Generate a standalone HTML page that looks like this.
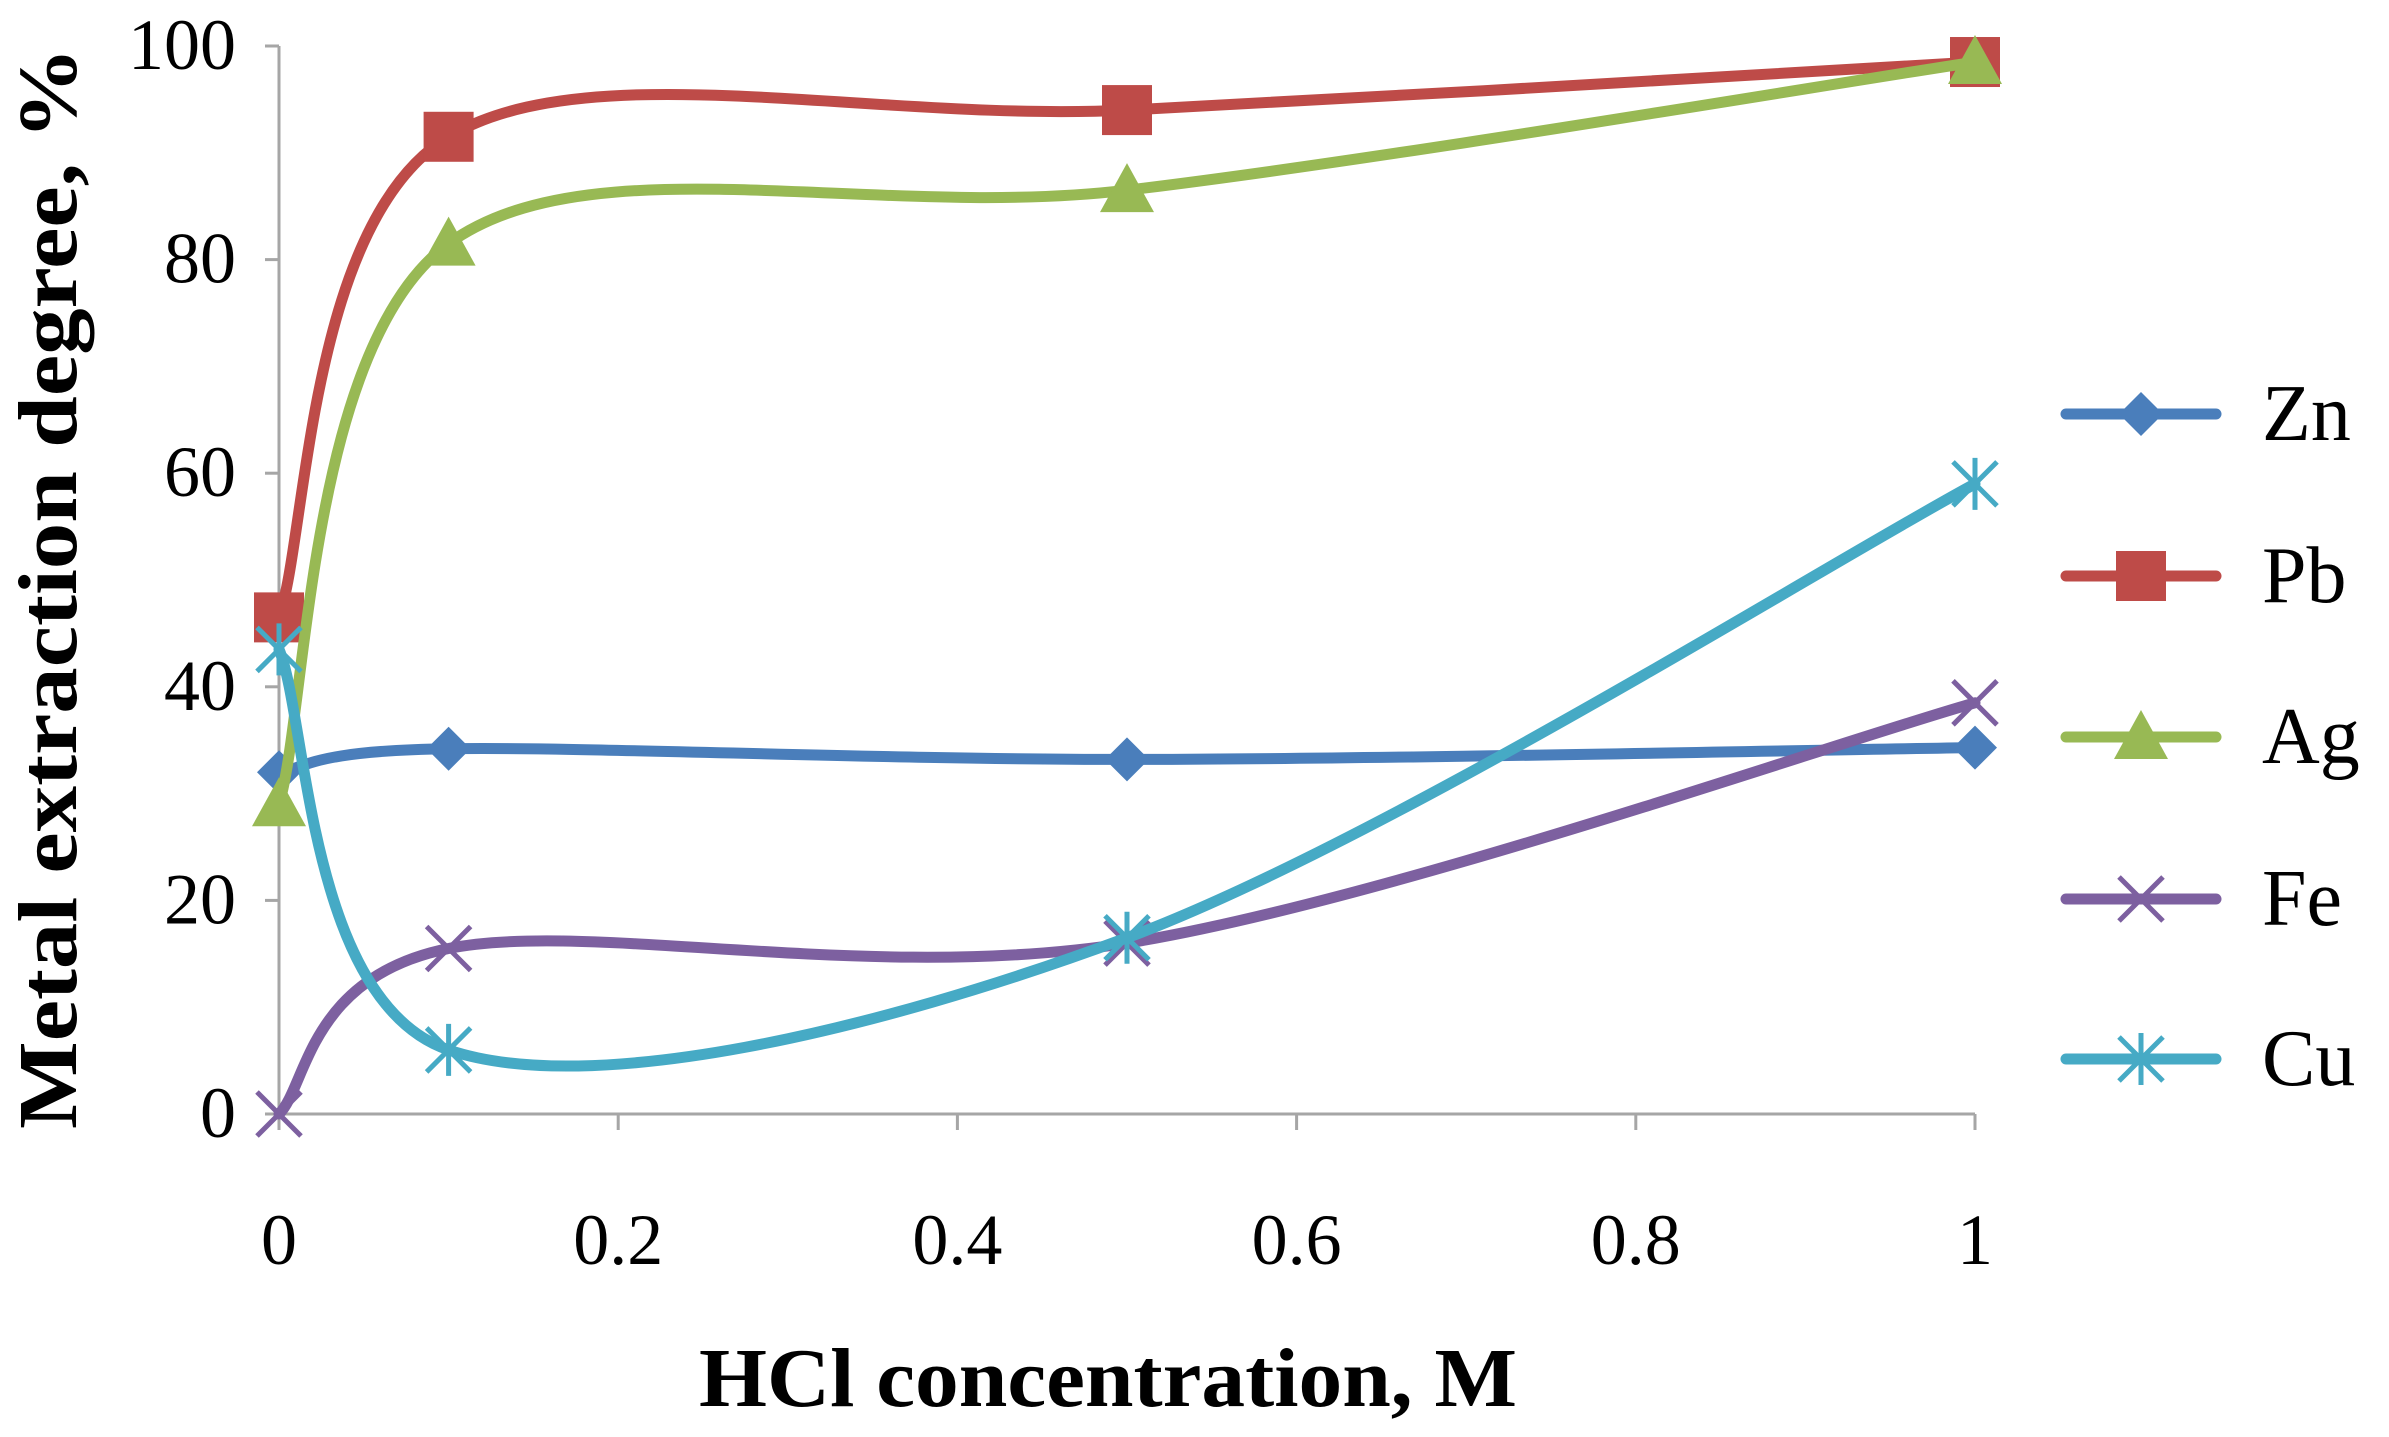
<!DOCTYPE html>
<html><head><meta charset="utf-8"><style>
html,body{margin:0;padding:0;background:#fff;}
svg text{font-family:"Liberation Serif",serif;fill:#000;}
</style></head><body>
<svg id="chart" width="2389" height="1432" viewBox="0 0 2389 1432" xmlns="http://www.w3.org/2000/svg">
<g id="axes"></g><g id="series"></g><g id="legend"></g>
<text x="1108" y="1406" text-anchor="middle" font-size="84" font-weight="bold" textLength="818" lengthAdjust="spacingAndGlyphs">HCl concentration, M</text>
<text transform="translate(76,588) rotate(-90)" text-anchor="middle" font-size="84" font-weight="bold" textLength="1082" lengthAdjust="spacingAndGlyphs">Metal extraction degree, %</text>
</svg>
<script>
const xValues=[0,0.1,0.5,1];
const seriesNames=["Zn","Pb","Ag","Fe","Cu"];
const znValues=[32,34.2,33.2,34.3];
const pbValues=[46.5,91.5,94,98.5];
const agValues=[29,81.5,86.5,98.5];
const feValues=[0,15.5,16,38.5];
const cuValues=[43.5,6,16.5,59];
const xTicks=[0,0.2,0.4,0.6,0.8,1];
const xTickLabels=["0","0.2","0.4","0.6","0.8","1"];
const yTicks=[0,20,40,60,80,100];
const yTickLabels=["0","20","40","60","80","100"];

const X0=279,X1=1975,Y0=1114,Y1=46;
const sx=v=>X0+(X1-X0)*v;
const sy=v=>Y0-(Y0-Y1)*v/100;
const NS="http://www.w3.org/2000/svg";
function mk(tag,attrs,parent){const e=document.createElementNS(NS,tag);for(const k in attrs)e.setAttribute(k,attrs[k]);parent.appendChild(e);return e;}
const axes=document.getElementById('axes');
let a=mk('line',{x1:X0,y1:Y0,x2:X0,y2:Y1,stroke:'#a6a6a6','stroke-width':3},axes);


a=mk('line',{x1:X0,y1:Y0,x2:X1,y2:Y0,stroke:'#a6a6a6','stroke-width':3},axes);


yTicks.forEach((v,i)=>{
 const t=mk('line',{x1:X0-14,y1:sy(v),x2:X0,y2:sy(v),stroke:'#a6a6a6','stroke-width':3},axes);
 
 
 const l=mk('text',{x:236,y:sy(v)+23,'text-anchor':'end','font-size':72},axes);
 l.textContent=yTickLabels[i];
 
 
});
xTicks.forEach((v,i)=>{
 const t=mk('line',{x1:sx(v),y1:Y0,x2:sx(v),y2:Y0+16,stroke:'#a6a6a6','stroke-width':3},axes);
 
 
 const l=mk('text',{x:sx(v),y:1264,'text-anchor':'middle','font-size':72},axes);
 l.textContent=xTickLabels[i];
 
 
});
const colors=["#4a7ebb","#be4b48","#98b954","#7d60a0","#46aac5"];
const all=[znValues,pbValues,agValues,feValues,cuValues];
function smooth(pts){
 let d=`M${pts[0][0]},${pts[0][1]}`;
 for(let i=0;i<pts.length-1;i++){
  const p0=pts[i-1]||pts[i],p1=pts[i],p2=pts[i+1],p3=pts[i+2]||p2;
  const c1=[p1[0]+(p2[0]-p0[0])/6,p1[1]+(p2[1]-p0[1])/6];
  const c2=[p2[0]-(p3[0]-p1[0])/6,p2[1]-(p3[1]-p1[1])/6];
  d+=` C${c1[0]},${c1[1]} ${c2[0]},${c2[1]} ${p2[0]},${p2[1]}`;
 }
 return d;
}
function marker(i,x,y,parent){
 const c=colors[i];let m;
 if(i===0)m=mk('polygon',{points:`${x},${y-22} ${x+22},${y} ${x},${y+22} ${x-22},${y}`,fill:c},parent);
 else if(i===1)m=mk('rect',{x:x-25,y:y-25,width:50,height:50,fill:c},parent);
 else if(i===2)m=mk('polygon',{points:`${x},${y-27} ${x+27},${y+22} ${x-27},${y+22}`,fill:c},parent);
 else if(i===3)m=mk('path',{d:`M${x-22},${y-22}L${x+22},${y+22}M${x-22},${y+22}L${x+22},${y-22}`,stroke:c,'stroke-width':5,fill:'none'},parent);
 else m=mk('path',{d:`M${x-22},${y-22}L${x+22},${y+22}M${x-22},${y+22}L${x+22},${y-22}M${x},${y-26}L${x},${y+26}`,stroke:c,'stroke-width':5,fill:'none'},parent);
 return m;
}
const sg=document.getElementById('series');
all.forEach((vals,i)=>{
 const g=mk('g',{},sg);
 
 
 const pts=xValues.map((x,j)=>[sx(x),sy(vals[j])]);
 const p=mk('path',{d:smooth(pts),fill:'none',stroke:colors[i],'stroke-width':11,'stroke-linecap':'round'},g);
 
 
 pts.forEach(pt=>{
  const m=marker(i,pt[0],pt[1],g);
  
  
 });
});
const lg=document.getElementById('legend');


const legY=[414,576,737,899,1059];
seriesNames.forEach((n,i)=>{
 const g=mk('g',{},lg);
 
 
 mk('line',{x1:2066,y1:legY[i],x2:2216,y2:legY[i],stroke:colors[i],'stroke-width':11,'stroke-linecap':'round'},g);
 marker(i,2141,legY[i],g);
 const t=mk('text',{x:2262,y:legY[i]+26,'font-size':80},g);
 t.textContent=n;
});
</script>
</body></html>
